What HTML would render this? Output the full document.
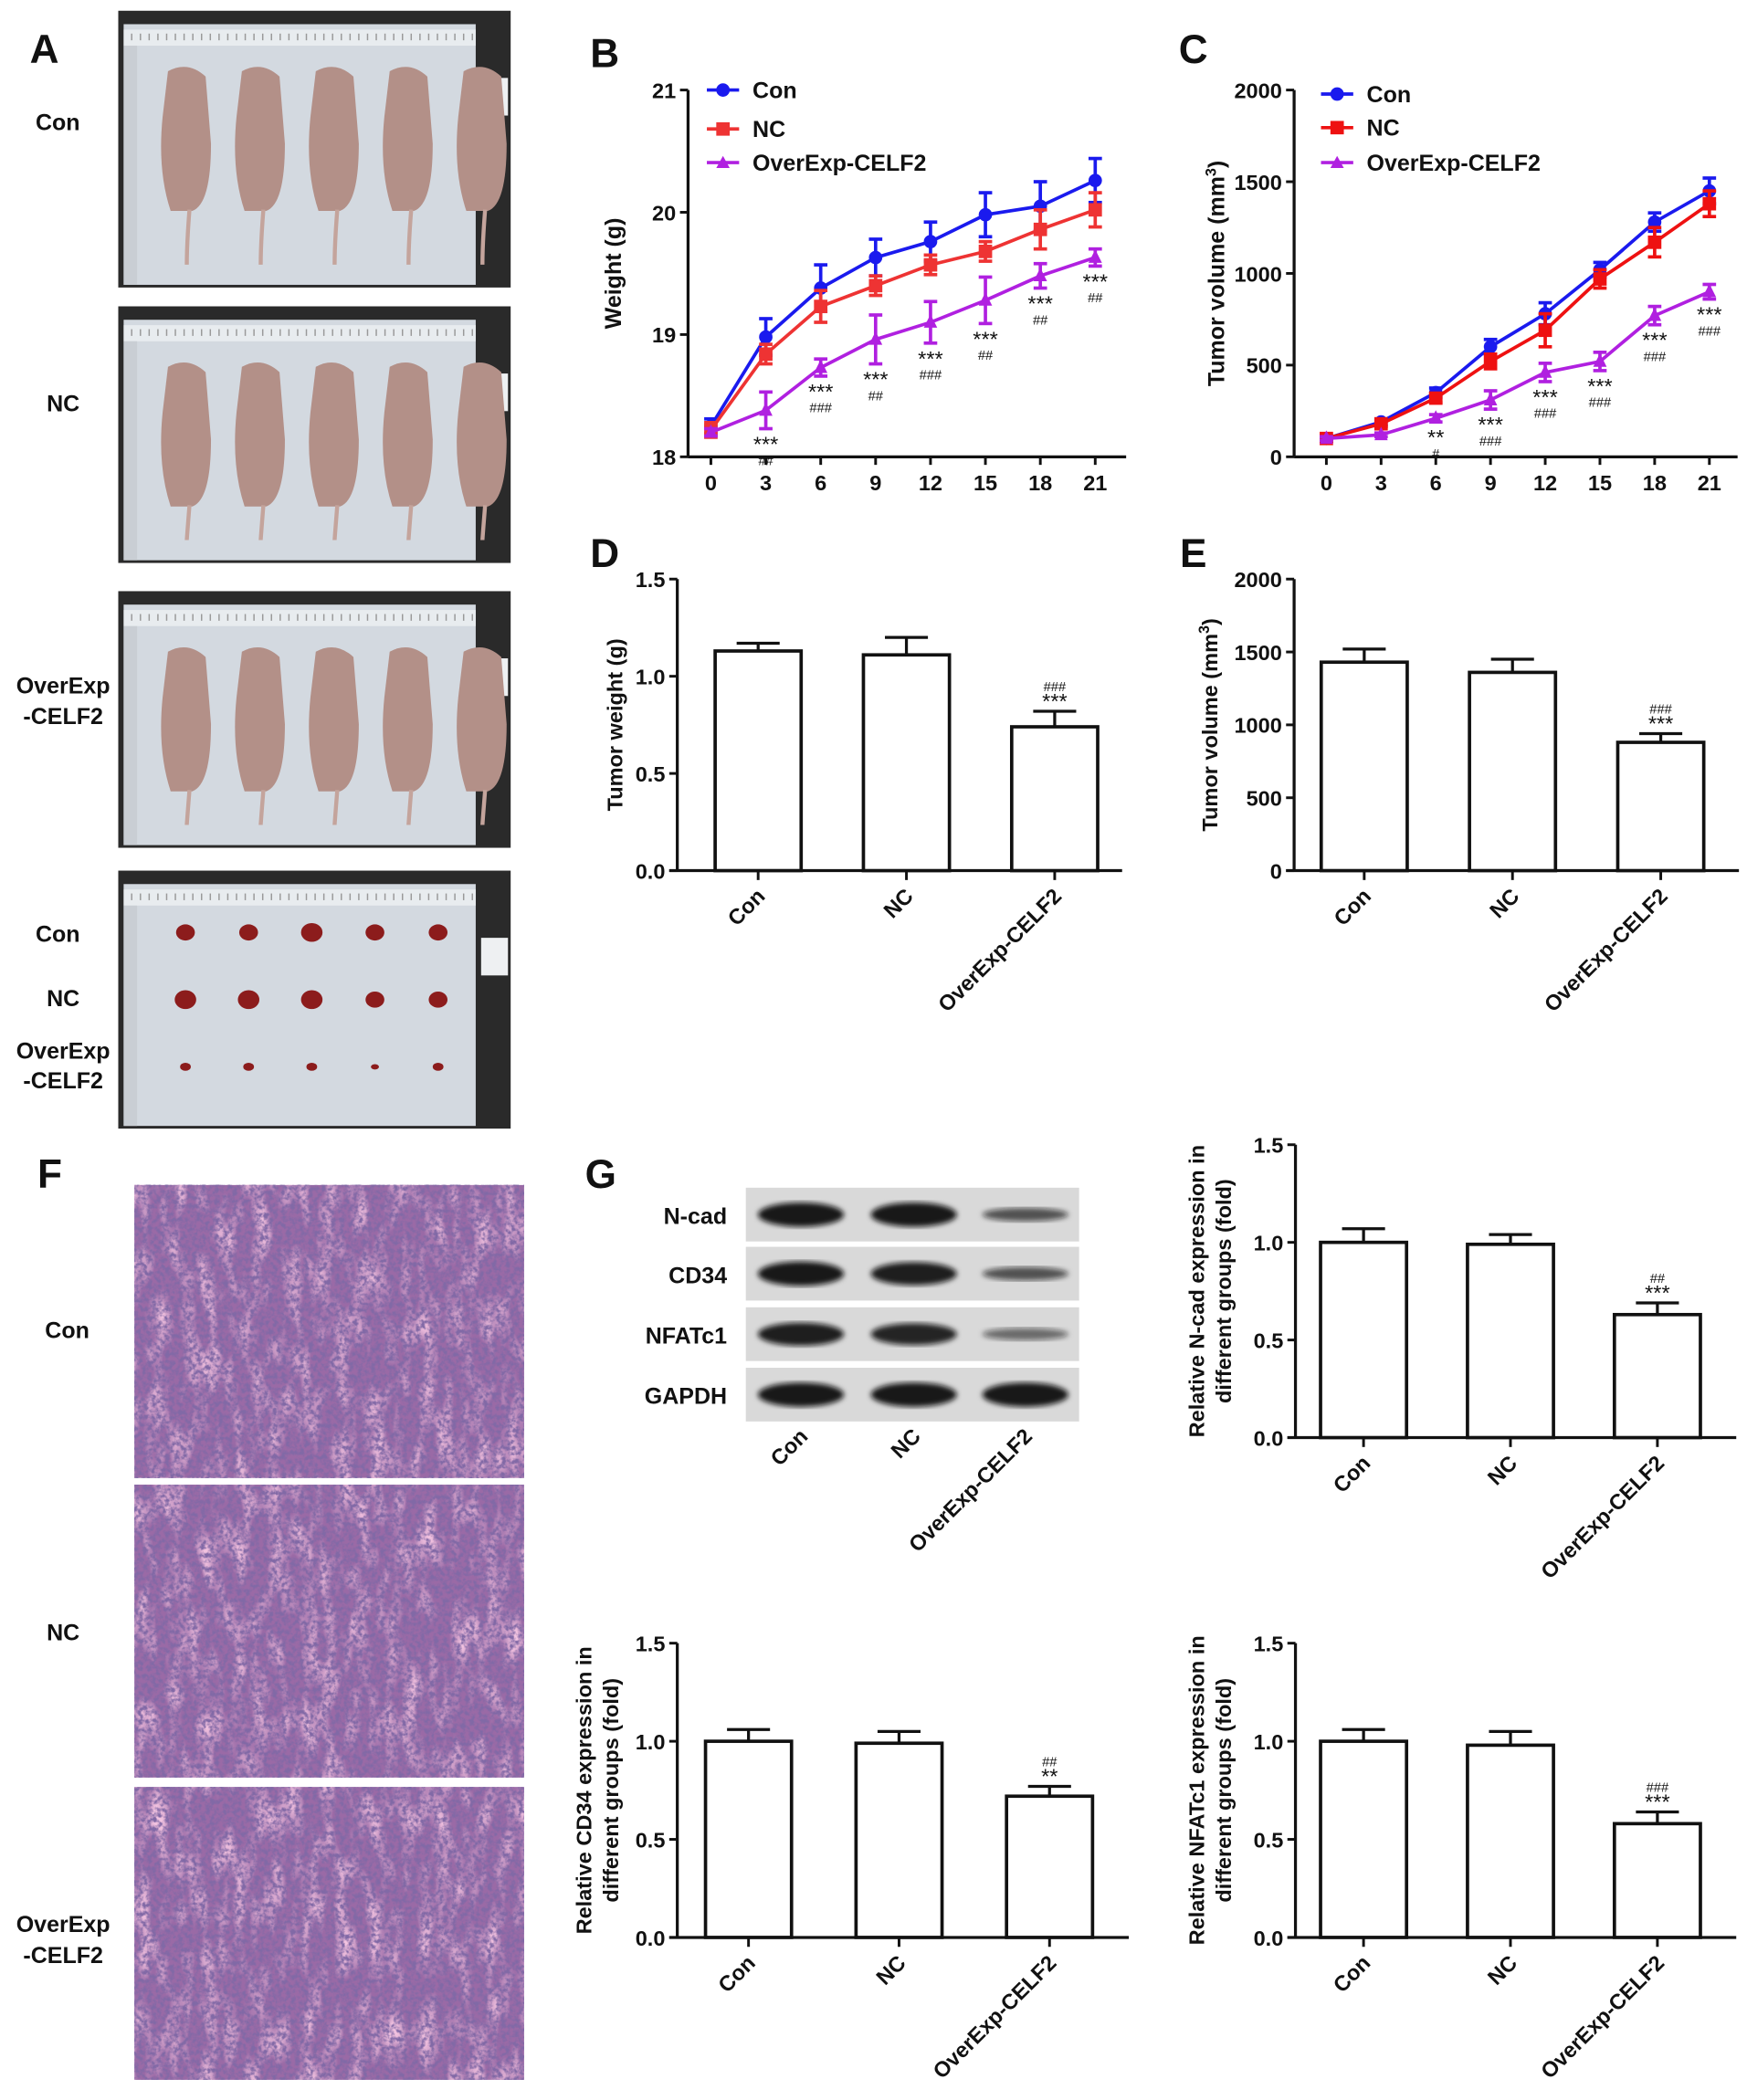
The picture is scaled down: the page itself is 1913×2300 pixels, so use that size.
<!DOCTYPE html>
<html><head><meta charset="utf-8">
<style>
html,body{margin:0;padding:0;background:#fff;}
svg{display:block;font-family:"Liberation Sans",Arial,sans-serif;font-weight:bold;}
</style></head>
<body>
<svg id="fig" width="1913" height="2300" viewBox="0 0 1300 1563" xmlns="http://www.w3.org/2000/svg">
<defs>
<filter id="histo" x="0" y="0" width="100%" height="100%">
<feTurbulence type="fractalNoise" baseFrequency="0.3" numOctaves="3" seed="3"/>
<feColorMatrix type="matrix" values="0 0 0 0 0.22  0 0 0 0 0.14  0 0 0 0 0.38  0 0 0 -3 1.9"/>
</filter>
<filter id="histo2" x="0" y="0" width="100%" height="100%">
<feTurbulence type="fractalNoise" baseFrequency="0.08 0.03" numOctaves="2" seed="9"/>
<feColorMatrix type="matrix" values="0 0 0 0 0.9  0 0 0 0 0.55  0 0 0 0 0.75  0 0 0 -2.5 1.4"/>
</filter>
<filter id="blur1"><feGaussianBlur stdDeviation="2"/></filter>
</defs>
<g id="root"></g>
</svg>
<script>
// ===== Data =====
const days = [0,3,6,9,12,15,18,21];
const weightCon = [18.25,18.98,19.38,19.63,19.76,19.98,20.05,20.26];
const weightConErr = [0.06,0.15,0.19,0.15,0.16,0.18,0.2,0.18];
const weightNC = [18.22,18.84,19.23,19.40,19.57,19.68,19.86,20.02];
const weightNCErr = [0.06,0.08,0.13,0.08,0.08,0.08,0.16,0.14];
const weightOver = [18.20,18.38,18.73,18.96,19.10,19.28,19.48,19.63];
const weightOverErr = [0.03,0.15,0.07,0.2,0.17,0.19,0.1,0.07];
const weightAnno = [["",""],["***","##"],["***","###"],["***","##"],["***","###"],["***","##"],["***","##"],["***","##"]];
const volCon = [100,190,350,600,780,1020,1280,1450];
const volConErr = [15,15,25,40,60,40,50,70];
const volNC = [100,180,320,520,690,970,1170,1380];
const volNCErr = [15,15,25,40,90,50,80,70];
const volOver = [100,120,210,310,460,520,770,900];
const volOverErr = [10,10,20,50,50,50,50,40];
const volAnno = [["",""],["",""],["**","#"],["***","###"],["***","###"],["***","###"],["***","###"],["***","###"]];
const groups = ["Con","NC","OverExp-CELF2"];
const tumorWeight = [1.13,1.11,0.74];
const tumorWeightErr = [0.04,0.09,0.08];
const tumorVol = [1430,1360,880];
const tumorVolErr = [90,90,60];
const ncad = [1.0,0.99,0.63];
const ncadErr = [0.07,0.05,0.06];
const cd34 = [1.0,0.99,0.72];
const cd34Err = [0.06,0.06,0.05];
const nfat = [1.0,0.98,0.58];
const nfatErr = [0.06,0.07,0.06];

const NS="http://www.w3.org/2000/svg";
const root=document.getElementById('root');
function mk(tag,attrs,parent){
  const e=document.createElementNS(NS,tag);
  for(const k in attrs) e.setAttribute(k,attrs[k]);
  (parent||root).appendChild(e);
  return e;
}
function txt(x,y,s,size,parent,anchor,extra){
  const t=mk('text',Object.assign({x:x,y:y,'font-size':size,'text-anchor':anchor||'middle',fill:'#111'},extra||{}),parent);
  t.textContent=s;return t;
}
function grp(name){const g=mk('g',{});


return g;}

[["A",33,47],["B",450,50],["C",888,47],["D",450,422],["E",888,422],["F",37,884],["G",447,884]].forEach(p=>{
  const t=txt(p[1],p[2],p[0],30,null,'middle');
  
  
});

// ===== Panel A photos =====
function photo(x,y,w,h,name,tumors){
  const g=grp(name);
  mk('rect',{x:x,y:y,width:w,height:h,fill:'#2a2a2a'},g);
  mk('rect',{x:x+4,y:y+10,width:w-30,height:h-12,fill:'#d3d9e0'},g);
  mk('rect',{x:x+4,y:y+14,width:w-30,height:12,fill:'#e8ecef'},g);
  for(let i=0;i<40;i++) mk('line',{x1:x+10+i*6.5,y1:y+17,x2:x+10+i*6.5,y2:y+22,stroke:'#999','stroke-width':1},g);
  mk('rect',{x:x+4,y:y+26,width:10,height:h-28,fill:'#c9ced4'},g);
  mk('rect',{x:x+w-22,y:y+50,width:20,height:28,fill:'#eef0f2'},g);
  if(!tumors){
    for(let i=0;i<5;i++){
      const cx=x+45+i*55;
      mk('path',{d:`M${cx-8},${y+45} q15,-8 28,4 l4,50 q0,45 -14,50 l-16,0 q-10,-30 -6,-70 z`,fill:'#b39088'},g);
      mk('path',{d:`M${cx+8},${y+148} q-2,25 -2,${h-165}`,stroke:'#c4a49c','stroke-width':3,fill:'none'},g);
    }
  } else {
    const sizes=[[6,6,7,6,6],[7,7,7,6,6],[3,3,3,2,3]];
    sizes.forEach((row,r)=>row.forEach((s,i)=>{
      mk('ellipse',{cx:x+50+i*47,cy:y+46+r*50,rx:s+1,ry:s,fill:'#8c1c1c'},g);
    }));
  }
}
photo(88,8,292,206,'photo-con-mice');
photo(88,228,292,191,'photo-nc-mice');
photo(88,440,292,191,'photo-overexp-mice');
photo(88,648,292,192,'photo-tumors',true);
[["Con",43,97],["NC",47,306],["OverExp",47,516],["-CELF2",47,539],["Con",43,701],["NC",47,749],["OverExp",47,788],["-CELF2",47,810]].forEach(l=>{
  const t=txt(l[1],l[2],l[0],17);
  
  
});

// ===== Line charts =====
function lineChart(cfg){
  const g=grp(cfg.name);
  const X=d=>cfg.x0+(d-days[0])/(days[days.length-1]-days[0])*(cfg.x1-cfg.x0);
  const Y=v=>cfg.yb-(v-cfg.ymin)/(cfg.ymax-cfg.ymin)*(cfg.yb-cfg.yt);
  mk('line',{x1:cfg.ax,y1:cfg.yt,x2:cfg.ax,y2:cfg.yb,stroke:'#111','stroke-width':2.2},g);
  mk('line',{x1:cfg.ax,y1:cfg.yb,x2:cfg.xend,y2:cfg.yb,stroke:'#111','stroke-width':2.2},g);
  cfg.yticks.forEach(v=>{
    mk('line',{x1:cfg.ax-6,y1:Y(v),x2:cfg.ax,y2:Y(v),stroke:'#111','stroke-width':2},g);
    const t=txt(cfg.ax-9,Y(v)+6,String(v),16,g,'end');
    
    
  });
  days.forEach(d=>{
    mk('line',{x1:X(d),y1:cfg.yb,x2:X(d),y2:cfg.yb+6,stroke:'#111','stroke-width':2},g);
    const t=txt(X(d),cfg.yb+25,String(d),16,g);
    
    
  });
  const yt=txt(0,0,'',17,g);
  yt.setAttribute('transform',`translate(${cfg.titleX},${(cfg.yt+cfg.yb)/2}) rotate(-90)`);
  
  
  yt.innerHTML=cfg.title;
  cfg.series.forEach((s,si)=>{
    const sg=mk('g',{},g);
    
    
    s.vals.forEach((v,i)=>{
      const x=X(days[i]);
      mk('line',{x1:x,y1:Y(v-s.err[i]),x2:x,y2:Y(v+s.err[i]),stroke:s.color,'stroke-width':2.5},sg);
      mk('line',{x1:x-5,y1:Y(v+s.err[i]),x2:x+5,y2:Y(v+s.err[i]),stroke:s.color,'stroke-width':2.5},sg);
      mk('line',{x1:x-5,y1:Y(v-s.err[i]),x2:x+5,y2:Y(v-s.err[i]),stroke:s.color,'stroke-width':2.5},sg);
    });
    mk('polyline',{points:s.vals.map((v,i)=>X(days[i])+','+Y(v)).join(' '),fill:'none',stroke:s.color,'stroke-width':2.5},sg);
    s.vals.forEach((v,i)=>{
      const x=X(days[i]),y=Y(v);
      let m;
      if(s.marker==='c') m=mk('circle',{cx:x,cy:y,r:5,fill:s.color},sg);
      else if(s.marker==='s') m=mk('rect',{x:x-5,y:y-5,width:10,height:10,fill:s.color},sg);
      else m=mk('polygon',{points:`${x},${y-6} ${x-5},${y+4} ${x+5},${y+4}`,fill:s.color},sg);
      
      
    });
    const ly=cfg.legY[si];
    mk('line',{x1:cfg.legX-12,y1:ly,x2:cfg.legX+12,y2:ly,stroke:s.color,'stroke-width':2.5},g);
    if(s.marker==='c') mk('circle',{cx:cfg.legX,cy:ly,r:5,fill:s.color},g);
    else if(s.marker==='s') mk('rect',{x:cfg.legX-5,y:ly-5,width:10,height:10,fill:s.color},g);
    else mk('polygon',{points:`${cfg.legX},${ly-5} ${cfg.legX-5},${ly+4} ${cfg.legX+5},${ly+4}`,fill:s.color},g);
    const lt=txt(cfg.legX+22,ly+6,s.label,17,g,'start');
    
    
  });
  const ov=cfg.series[2];
  cfg.anno.forEach((a,i)=>{
    if(!a[0])return;
    const x=X(days[i]);const y=Y(ov.vals[i]-ov.err[i]);
    const t1=txt(x,y+17,a[0],16,g);t1.setAttribute('font-weight','normal');
    const t2=txt(x,y+27,a[1],10,g);t2.setAttribute('font-weight','normal');
  });
}
lineChart({name:'weight-line-chart',ax:512,x0:529,x1:815,xend:838,yt:67,yb:340,ymin:18,ymax:21,yticks:[18,19,20,21],
  titleX:462,title:'Weight (g)',legX:538,legY:[67,96,121],anno:weightAnno,
  series:[{key:'con',label:'Con',vals:weightCon,err:weightConErr,color:'#1a1aee',marker:'c'},
          {key:'nc',label:'NC',vals:weightNC,err:weightNCErr,color:'#ee3333',marker:'s'},
          {key:'over',label:'OverExp-CELF2',vals:weightOver,err:weightOverErr,color:'#b020e0',marker:'t'}]});
lineChart({name:'tumor-volume-line-chart',ax:963,x0:987,x1:1272,xend:1293,yt:67,yb:340,ymin:0,ymax:2000,yticks:[0,500,1000,1500,2000],
  titleX:911,title:'Tumor volume (mm<tspan baseline-shift="super" font-size="11">3</tspan>)',legX:995,legY:[70,95,121],anno:volAnno,
  series:[{key:'con',label:'Con',vals:volCon,err:volConErr,color:'#1a1aee',marker:'c'},
          {key:'nc',label:'NC',vals:volNC,err:volNCErr,color:'#ee1111',marker:'s'},
          {key:'over',label:'OverExp-CELF2',vals:volOver,err:volOverErr,color:'#b020e0',marker:'t'}]});

// ===== Bar charts =====
function barChart(cfg){
  const g=grp(cfg.name);
  const Y=v=>cfg.yb-(v-0)/(cfg.ymax)*(cfg.yb-cfg.yt);
  mk('line',{x1:cfg.ax,y1:cfg.yt,x2:cfg.ax,y2:cfg.yb,stroke:'#111','stroke-width':2.2},g);
  mk('line',{x1:cfg.ax-6,y1:cfg.yb,x2:cfg.xend,y2:cfg.yb,stroke:'#111','stroke-width':2.2},g);
  cfg.ticks.forEach(v=>{
    mk('line',{x1:cfg.ax-6,y1:Y(v),x2:cfg.ax,y2:Y(v),stroke:'#111','stroke-width':2},g);
    const t=txt(cfg.ax-9,Y(v)+6,cfg.fmt(v),16,g,'end');
    
    
  });
  const step=(cfg.xend-cfg.ax)/3;
  groups.forEach((gname,i)=>{
    const cx=cfg.ax+step*(i+0.5)+cfg.shift;
    const v=cfg.vals[i],e=cfg.err[i];
    mk('line',{x1:cx,y1:Y(v),x2:cx,y2:Y(v+e),stroke:'#111','stroke-width':2.2},g);
    mk('line',{x1:cx-16,y1:Y(v+e),x2:cx+16,y2:Y(v+e),stroke:'#111','stroke-width':2.2},g);
    const b=mk('rect',{x:cx-32,y:Y(v),width:64,height:cfg.yb-Y(v),fill:'#fff',stroke:'#111','stroke-width':2.5},g);
    
    
    mk('line',{x1:cx,y1:cfg.yb,x2:cx,y2:cfg.yb+7,stroke:'#111','stroke-width':2},g);
    const t=txt(0,0,gname,16,g,'end');
    t.setAttribute('transform',`translate(${cx+6},${cfg.yb+20}) rotate(-45)`);
    
    
    if(i===2){
      const t1=txt(cx,Y(v+e)-2,cfg.anno[0],16,g);t1.setAttribute('font-weight','normal');
      const t2=txt(cx,Y(v+e)-15,cfg.anno[1],10,g);t2.setAttribute('font-weight','normal');
    }
  });
  const yt=mk('text',{'font-size':16,'text-anchor':'middle',fill:'#111',transform:`translate(${cfg.titleX},${(cfg.yt+cfg.yb)/2}) rotate(-90)`},g);
  
  
  cfg.title.forEach((line,li)=>{const ts=mk('tspan',{x:0,dy:li?20:0},yt);ts.innerHTML=line;});
}
const f1=v=>v.toFixed(1), f0=v=>String(v);
barChart({name:'tumor-weight-bar-chart',ax:504,xend:835,yt:431,yb:648,ymax:1.5,ticks:[0,0.5,1.0,1.5],fmt:f1,shift:5,
  vals:tumorWeight,err:tumorWeightErr,anno:['***','###'],titleX:463,title:['Tumor weight (g)']});
barChart({name:'tumor-volume-bar-chart',ax:963,xend:1294,yt:431,yb:648,ymax:2000,ticks:[0,500,1000,1500,2000],fmt:f0,shift:-3,
  vals:tumorVol,err:tumorVolErr,anno:['***','###'],titleX:906,title:['Tumor volume (mm<tspan baseline-shift="super" font-size="11">3</tspan>)']});
barChart({name:'ncad-bar-chart',ax:964,xend:1292,yt:852,yb:1070,ymax:1.5,ticks:[0,0.5,1.0,1.5],fmt:f1,shift:-4,
  vals:ncad,err:ncadErr,anno:['***','##'],titleX:896,title:['Relative N-cad expression in','different groups (fold)']});
barChart({name:'cd34-bar-chart',ax:504,xend:840,yt:1223,yb:1442,ymax:1.5,ticks:[0,0.5,1.0,1.5],fmt:f1,shift:-3,
  vals:cd34,err:cd34Err,anno:['**','##'],titleX:440,title:['Relative CD34 expression in','different groups (fold)']});
barChart({name:'nfatc1-bar-chart',ax:964,xend:1292,yt:1223,yb:1442,ymax:1.5,ticks:[0,0.5,1.0,1.5],fmt:f1,shift:-4,
  vals:nfat,err:nfatErr,anno:['***','###'],titleX:896,title:['Relative NFATc1 expression in','different groups (fold)']});

// ===== Panel F histology =====
[[882,'histology-con'],[1105,'histology-nc'],[1330,'histology-overexp']].forEach(h=>{
  const g=grp(h[1]);
  mk('rect',{x:100,y:h[0],width:290,height:218,fill:'#9a6aa6'},g);
  mk('rect',{x:100,y:h[0],width:290,height:218,filter:'url(#histo2)'},g);
  mk('rect',{x:100,y:h[0],width:290,height:218,filter:'url(#histo)'},g);
});
[["Con",50,996],["NC",47,1221],["OverExp",47,1438],["-CELF2",47,1461]].forEach(l=>{
  const t=txt(l[1],l[2],l[0],17);
  
  
});

// ===== Panel G western blot =====
const blotRows=[["N-cad",884,[1,1,0.55]],["CD34",928,[1,0.95,0.55]],["NFATc1",973,[0.95,0.9,0.35]],["GAPDH",1018,[1,1,1]]];
blotRows.forEach(r=>{
  const g=grp('blot-'+r[0].toLowerCase());
  mk('rect',{x:555,y:r[1],width:248,height:40,fill:'#d9d9d9'},g);
  [596,680,763].forEach((cx,i)=>{
    mk('ellipse',{cx:cx,cy:r[1]+20,rx:32,ry:9*Math.max(r[2][i],0.5),fill:'#111','fill-opacity':0.35+0.6*r[2][i],filter:'url(#blur1)'},g);
  });
  const t=txt(541,r[1]+27,r[0],17,g,'end');
  
  
});
[["Con",596],["NC",680],["OverExp-CELF2",763]].forEach(l=>{
  const t=txt(0,0,l[0],16,null,'end');
  t.setAttribute('transform',`translate(${l[1]+6},${1070}) rotate(-45)`);
  
  
});
</script>
</body></html>
